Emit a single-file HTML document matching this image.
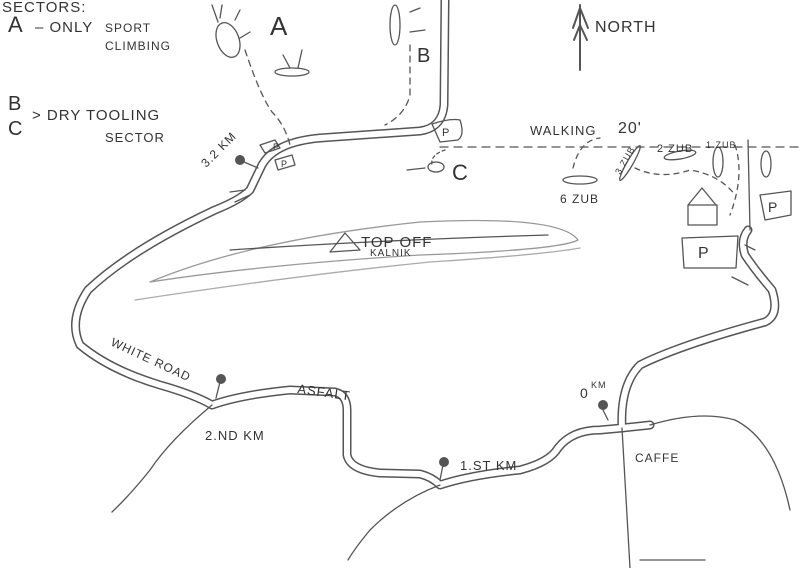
<!DOCTYPE html>
<html><head><meta charset="utf-8">
<style>
html,body{margin:0;padding:0;background:#fff;}
svg{display:block;}
text{font-family:"Liberation Sans",sans-serif;fill:#333;}
</style></head><body>
<svg width="804" height="568" viewBox="0 0 804 568" xmlns="http://www.w3.org/2000/svg">
<rect width="804" height="568" fill="#fff"/>
<g fill="none" stroke-linecap="round" stroke-linejoin="round">
<g stroke="#555" stroke-width="9">
<path d="M445 0 L444 105 Q442 128 420 131 L320 138 Q275 142 262 165 L250 190 Q240 200 215 210 Q130 250 88 290 Q68 320 80 345 Q110 370 160 385 Q195 395 212 405 Q240 395 290 390 L335 392 Q347 395 347 410 L347 455 Q350 470 380 473 L420 474 Q432 477 440 485 Q470 475 520 470 Q550 462 558 448 Q572 430 600 430 L622 428 L650 425"/>
<path d="M622 428 Q620 385 640 365 Q680 345 765 322 Q780 315 772 290 Q755 270 745 255 Q740 240 748 230"/>
</g>
<g stroke="#fff" stroke-width="6">
<path d="M445 0 L444 105 Q442 128 420 131 L320 138 Q275 142 262 165 L250 190 Q240 200 215 210 Q130 250 88 290 Q68 320 80 345 Q110 370 160 385 Q195 395 212 405 Q240 395 290 390 L335 392 Q347 395 347 410 L347 455 Q350 470 380 473 L420 474 Q432 477 440 485 Q470 475 520 470 Q550 462 558 448 Q572 430 600 430 L622 428 L650 425"/>
<path d="M622 428 Q620 385 640 365 Q680 345 765 322 Q780 315 772 290 Q755 270 745 255 Q740 240 748 230"/>
</g>
<g stroke="#555" stroke-width="1.3">
<path d="M212 405 Q170 440 150 470 Q130 495 112 512"/>
<path d="M440 485 Q400 500 370 530 Q355 548 348 560"/>
<path d="M650 425 Q700 410 735 420 Q775 440 790 510"/>
<path d="M622 428 L630 568"/>
<path d="M640 560 L705 560"/>
<path d="M150 282 Q250 240 420 222 Q560 215 578 240 Q560 250 420 255 Q260 265 150 282 Z" stroke="#999"/>
<path d="M230 250 Q380 240 548 235" stroke="#555"/>
<path d="M135 300 Q300 275 430 262 Q540 255 580 248" stroke="#aaa"/>
<path d="M245 50 Q260 95 272 112 Q285 125 290 145" stroke-dasharray="6 5"/>
<path d="M410 45 L410 95 Q405 115 385 125" stroke-dasharray="6 5"/>
<path d="M440 147 L800 147" stroke-dasharray="8 6"/>
<path d="M445 150 Q430 155 432 165" stroke-dasharray="3 3"/>
<path d="M573 168 Q580 140 600 138" stroke-dasharray="5 5"/>
<path d="M635 168 Q660 180 690 170 Q720 175 735 195" stroke-dasharray="5 5"/>
<path d="M735 145 Q745 175 730 215" stroke-dasharray="5 5"/>
<path d="M748 140 L750 230"/>
<path d="M688 205 L688 225 L717 225 L717 205 Z M688 205 L702 188 L716 205"/>
<path d="M682 238 L738 236 L736 268 L684 268 Z"/>
<path d="M760 195 L791 191 L791 215 L765 220 Z"/>
<path d="M745 245 L755 250"/>
<path d="M732 277 L748 285"/>
<path d="M432 124 Q450 118 460 120 Q465 135 458 140 L440 142 Z"/>
<path d="M260 145 L275 140 L280 148 L265 153 Z"/>
<path d="M275 160 L292 155 L295 165 L278 170 Z"/>
<path d="M330 252 L345 233 L360 250 Z"/>
<path d="M580 70 L580 5 M573 28 L580 8 L588 28 M574 40 L580 25 L587 40" stroke-width="2"/>
<ellipse cx="228" cy="40" rx="11" ry="18" transform="rotate(-20 228 40)"/>
<ellipse cx="292" cy="72" rx="17" ry="4"/>
<ellipse cx="395" cy="25" rx="5" ry="20"/>
<ellipse cx="436" cy="167" rx="8" ry="5"/>
<ellipse cx="580" cy="180" rx="17" ry="4"/>
<ellipse cx="630" cy="163" rx="3" ry="20" transform="rotate(30 630 163)"/>
<ellipse cx="680" cy="155" rx="16" ry="4" transform="rotate(-10 680 155)"/>
<ellipse cx="718" cy="162" rx="5" ry="15"/>
<ellipse cx="766" cy="164" rx="5" ry="13"/>
<path d="M212 5 L218 22 M222 5 L220 18 M240 10 L235 20 M250 32 L240 38 M283 55 L290 68 M302 50 L298 68 M420 8 L410 12 M425 30 L410 32 M407 170 L425 168 M230 192 L245 190 M235 202 L250 195"/>
<path d="M244 162 L258 168 M220 382 L216 398 M602 408 L608 420 M443 465 L440 480"/>
</g>
<g fill="#555">
<circle cx="240" cy="160" r="5"/>
<circle cx="221" cy="379" r="5"/>
<circle cx="603" cy="405" r="5"/>
<circle cx="444" cy="462" r="5"/>
</g>
</g>
<g font-size="15" letter-spacing="1">
<text x="2" y="12">SECTORS:</text>
<text x="8" y="32" font-size="22">A</text>
<text x="35" y="32">– ONLY</text>
<text x="105" y="32" font-size="12">SPORT</text>
<text x="105" y="50" font-size="12">CLIMBING</text>
<text x="8" y="110" font-size="20">B</text>
<text x="8" y="135" font-size="20">C</text>
<text x="32" y="120">&gt; DRY TOOLING</text>
<text x="105" y="142" font-size="13">SECTOR</text>
<text x="270" y="35" font-size="26">A</text>
<text x="417" y="62" font-size="20">B</text>
<text x="452" y="180" font-size="22">C</text>
<text x="595" y="32" font-size="16">NORTH</text>
<text x="530" y="135" font-size="13">WALKING</text>
<text x="618" y="133" font-size="16">20'</text>
<text x="560" y="203" font-size="12">6 ZUB</text>
<text x="657" y="152" font-size="11">2 ZUB</text>
<text x="706" y="148" font-size="9">1.ZUB</text>
<text x="620" y="175" font-size="9" transform="rotate(-60 620 175)">3.ZUB</text>
<text x="206" y="168" font-size="12" transform="rotate(-45 206 168)">3.2 KM</text>
<text x="361" y="247" font-size="15">TOP OFF</text>
<text x="370" y="256" font-size="10">KALNIK</text>
<text x="110" y="345" font-size="12" transform="rotate(25 110 345)">WHITE ROAD</text>
<text x="297" y="393" font-size="13" transform="rotate(8 297 393)">ASFALT</text>
<text x="205" y="440" font-size="13">2.ND KM</text>
<text x="460" y="470" font-size="13">1.ST KM</text>
<text x="580" y="398" font-size="14">0</text>
<text x="591" y="388" font-size="9">KM</text>
<text x="635" y="462" font-size="12">CAFFE</text>
<text x="273" y="150" font-size="9">P</text>
<text x="281" y="167" font-size="9">P</text>
<text x="442" y="136" font-size="11">P</text>
<text x="698" y="258" font-size="16">P</text>
<text x="768" y="212" font-size="14">P</text>
</g>
</svg>
</body></html>
